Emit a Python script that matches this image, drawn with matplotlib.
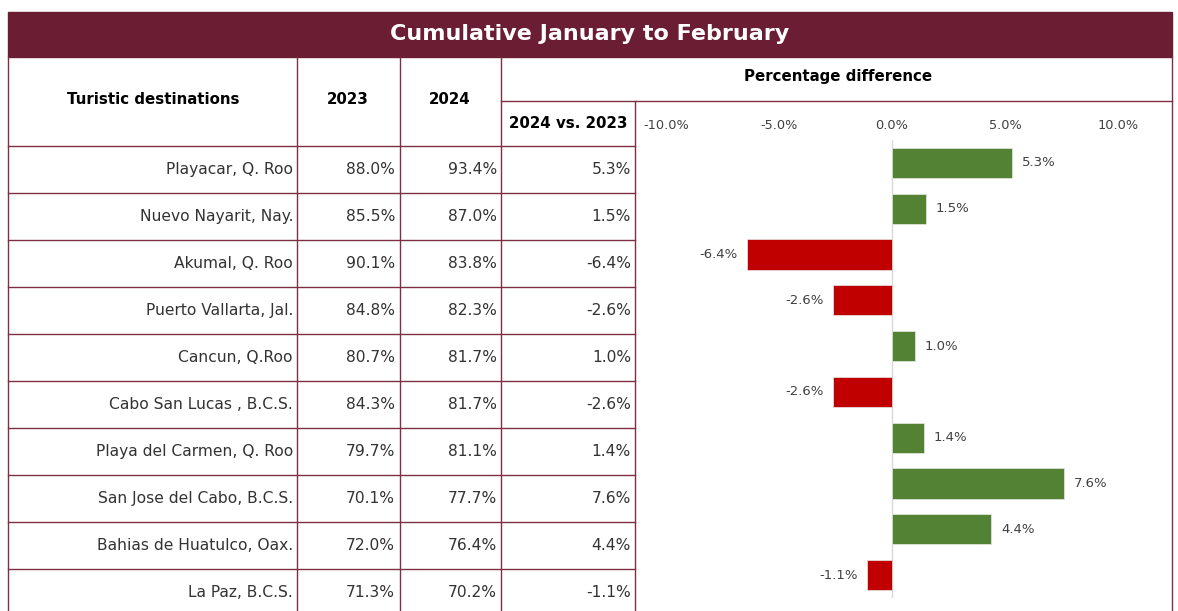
import numpy as np
import matplotlib.pyplot as plt
from matplotlib.patches import Rectangle

destinations = ['Playacar, Q. Roo', 'Nuevo Nayarit, Nay.', 'Akumal, Q. Roo',
                'Puerto Vallarta, Jal.', 'Cancun, Q.Roo', 'Cabo San Lucas , B.C.S.',
                'Playa del Carmen, Q. Roo', 'San Jose del Cabo, B.C.S.',
                'Bahias de Huatulco, Oax.', 'La Paz, B.C.S.']
occ_2023 = [88.0, 85.5, 90.1, 84.8, 80.7, 84.3, 79.7, 70.1, 72.0, 71.3]
occ_2024 = [93.4, 87.0, 83.8, 82.3, 81.7, 81.7, 81.1, 77.7, 76.4, 70.2]
diff = [5.3, 1.5, -6.4, -2.6, 1.0, -2.6, 1.4, 7.6, 4.4, -1.1]
xticks = [-10, -5, 0, 5, 10]

W, H = 1178, 611
maroon = '#6B1D33'
line_c = '#7E2F45'
txt_c = '#333333'
green = '#548235'
red = '#C00000'

fig = plt.figure(figsize=(W / 100, H / 100), dpi=100)
bg = fig.add_axes([0, 0, 1, 1])
bg.set_xlim(0, W)
bg.set_ylim(H, 0)
bg.axis('off')

# title bar
bg.add_patch(Rectangle((8, 12), 1164, 45, color=maroon, zorder=1))
bg.text(590, 34.5, 'Cumulative January to February', color='white', fontsize=16,
        fontweight='bold', ha='center', va='center')

# table borders
top, sub, head_bot = 57, 101, 146
row_h = 47
lw = 1.0
for x in [8, 297, 400, 501, 1172]:
    bg.plot([x, x], [top, H], color=line_c, lw=lw)
bg.plot([635, 635], [sub, H], color=line_c, lw=lw)
bg.plot([501, 1172], [sub, sub], color=line_c, lw=lw)
for i in range(len(destinations)):
    y = head_bot + i * row_h
    bg.plot([8, 635], [y, y], color=line_c, lw=lw)

# header text
hk = dict(fontsize=10.8, fontweight='bold', color='black', va='center', ha='center')
bg.text(153, 100, 'Turistic destinations', **hk)
bg.text(348, 100, '2023', **hk)
bg.text(450, 100, '2024', **hk)
bg.text(838, 77, 'Percentage difference', **hk)
bg.text(568, 124, '2024 vs. 2023', **hk)

# body
ck = dict(fontsize=11.2, color=txt_c, va='center', ha='right')
for i, name in enumerate(destinations):
    yc = head_bot + i * row_h + row_h / 2
    bg.text(293, yc, name, **ck)
    bg.text(395, yc, f'{occ_2023[i]:.1f}%', **ck)
    bg.text(497, yc, f'{occ_2024[i]:.1f}%', **ck)
    bg.text(631, yc, f'{diff[i]:.1f}%', **ck)

# bar chart
ax = fig.add_axes([636 / W, 1 - 598 / H, (1171 - 636) / W, (598 - 140) / H])
ax.patch.set_alpha(0)
y = np.arange(len(diff))
colors = [green if d >= 0 else red for d in diff]
ax.barh(y, diff, height=0.66, color=colors, edgecolor='#e8e8e8', lw=0.5, zorder=3)
ax.axvline(0, color='#d9d9d9', lw=1, zorder=2)
for yi, d in zip(y, diff):
    ax.annotate(f'{d:.1f}%', (d, yi), xytext=(7 if d >= 0 else -7, 0),
                textcoords='offset points', ha='left' if d >= 0 else 'right',
                va='center', fontsize=9.5, color='#404040')
ax.set_xlim((636 - 892) / 22.6, (1171 - 892) / 22.6)
ax.set_ylim(len(diff) - 0.5, -0.5)
ax.xaxis.tick_top()
ax.set_xticks(xticks)
ax.set_xticklabels([f'{t:.1f}%' for t in xticks])
ax.tick_params(axis='x', length=0, pad=6, labelsize=9.3, labelcolor='#404040')
ax.set_yticks([])
for s in ax.spines.values():
    s.set_visible(False)

fig.savefig('out.png', dpi=100, facecolor='white')
